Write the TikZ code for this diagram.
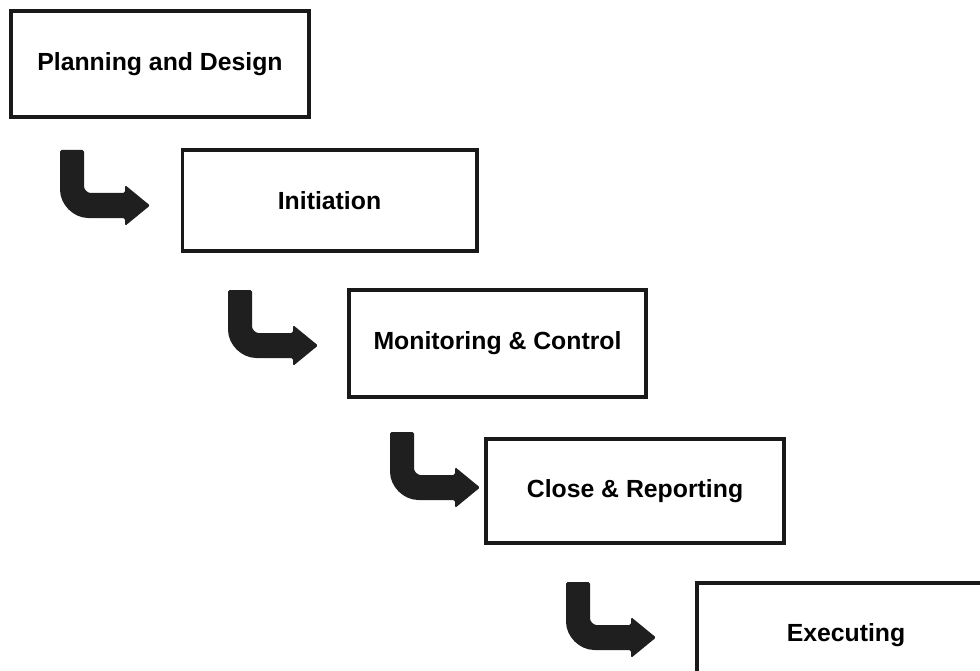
\documentclass[tikz,border=0pt]{standalone}
\usepackage{fontspec}
\setmainfont{Liberation Sans}
\begin{document}
\begin{tikzpicture}[x=0.75pt,y=-0.75pt,
  stage/.style={draw=black!90, line width=2.5pt, fill=white, inner sep=0pt,
    minimum width=223.5pt, font=\fontsize{18.6}{20}\selectfont\bfseries},
  turnarrow/.pic={
    \fill[black!88, rounded corners=1.2pt]
      (0,0) -- (24,0) -- (24,35)
      .. controls (24,39.4) and (27.6,43) .. (32,43)
      -- (65,43) -- (65,35) -- (90,55.5) -- (65,76) -- (65,68) -- (30,68)
      .. controls (13.4,68) and (0,54.6) .. (0,38) -- cycle;
  }]
  \useasboundingbox (0,0) rectangle (980,670);
  \clip (0,0) rectangle (980,670);

  % process stages
  \node[stage, minimum height=79.5pt] (plan)  at (160,64)      {Planning and Design};
  \node[stage, minimum width=221pt, minimum height=75.75pt] (init) at (329.5,200.5) {Initiation};
  \node[stage, minimum width=222.75pt, minimum height=80.25pt] (mon) at (497.5,343.5) {Monitoring \& Control};
  \node[stage, minimum height=78pt]   (close) at (635,491)     {Close \& Reporting};
  \node[stage, minimum height=78.75pt] (exec) at (846,635.5)   {Executing};

  % bent arrows leading down to each following stage
  \pic (a1) at (60,150)  {turnarrow};
  \pic (a2) at (228,290) {turnarrow};
  \pic (a3) at (390,432) {turnarrow};
  \pic (a4) at (566,582) {turnarrow};
\end{tikzpicture}
\end{document}
